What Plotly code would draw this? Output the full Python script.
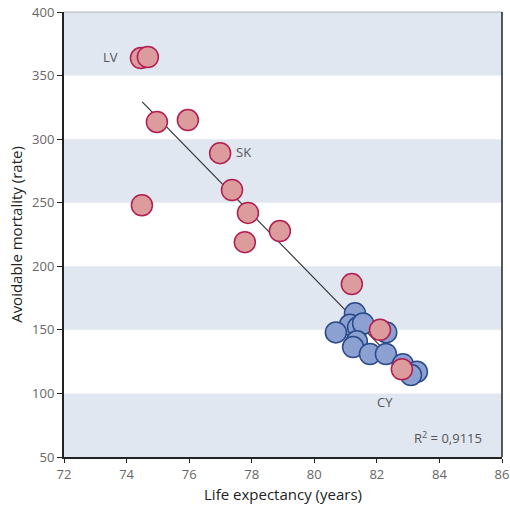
import numpy as np
import plotly.graph_objects as go

# Red group (life expectancy, avoidable mortality)
red_x = [74.46, 74.68, 74.97, 75.96, 76.99, 77.37, 77.88, 77.78, 74.49, 78.9, 81.2, 82.1, 82.8]
red_y = [363.8, 364.6, 313.5, 315.0, 289.0, 260.0, 242.0, 219.0, 248.0, 227.7, 186.0, 150.0, 119.0]

# Blue group
blue_x = [81.3, 81.14, 80.69, 81.4, 81.56, 82.3, 81.36, 81.24, 81.78, 82.29, 82.83, 83.28, 83.09]
blue_y = [163.0, 154.0, 148.0, 152.0, 155.0, 148.0, 141.0, 136.5, 131.0, 131.0, 123.0, 117.0, 114.5]

# Trend line range (years)
trend_x = [74.5, 83.3]

labels = ["LV", "SK", "CY"]
label_x = [73.5, 77.75, 82.25]
label_y = [365, 290, 93]

bands = [(50, 100), (150, 200), (250, 300), (350, 400)]

all_x = np.array(red_x + blue_x)
all_y = np.array(red_y + blue_y)
slope, intercept = np.polyfit(all_x, all_y, 1)
tx = np.array(trend_x)
ty = slope * tx + intercept

font_family = "Open Sans, Noto Sans, sans-serif"

fig = go.Figure()

fig.add_trace(go.Scatter(x=tx, y=ty, mode="lines",
                         line=dict(color="#333333", width=1.2), hoverinfo="skip"))
fig.add_trace(go.Scatter(x=blue_x, y=blue_y, mode="markers",
                         marker=dict(size=21, color="#8ca0d2",
                                     line=dict(color="#2b4a8a", width=1.5))))
fig.add_trace(go.Scatter(x=red_x, y=red_y, mode="markers",
                         marker=dict(size=21, color="#dc9b9d",
                                     line=dict(color="#b21e50", width=1.5))))

for lab, lx, ly in zip(labels, label_x, label_y):
    fig.add_annotation(x=lx, y=ly, text=lab, showarrow=False,
                       font=dict(size=13, color="#555555", family=font_family))

fig.add_annotation(x=1, y=0, xref="x domain", yref="y domain",
                   xanchor="right", yanchor="bottom", xshift=-18, yshift=8,
                   text="R<sup>2</sup> = 0,9115", showarrow=False,
                   font=dict(size=13, color="#555555", family=font_family))

shapes = []
for lo, hi in bands:
    shapes.append(dict(type="rect", xref="x domain", yref="y", x0=0, x1=1, y0=lo, y1=hi,
                       fillcolor="#e1e7f1", line=dict(width=0), layer="below"))
shapes.append(dict(type="line", xref="x domain", yref="y domain", x0=0, x1=1, y0=1, y1=1,
                   line=dict(color="#b0b0b0", width=1)))
shapes.append(dict(type="line", xref="x domain", yref="y domain", x0=1, x1=1, y0=0, y1=1,
                   line=dict(color="#222222", width=1.5)))

fig.update_layout(
    width=510, height=506,
    margin=dict(l=64, r=8, t=12, b=49, autoexpand=False),
    paper_bgcolor="white", plot_bgcolor="white",
    showlegend=False,
    shapes=shapes,
    font=dict(family=font_family),
    xaxis=dict(range=[72, 86], dtick=2, showgrid=False, zeroline=False, automargin=False,
               showline=True, linecolor="#222222", linewidth=2,
               ticks="outside", ticklen=4, tickcolor="#222222",
               tickfont=dict(size=13, color="#666666"),
               title=dict(text="Life expectancy (years)", font=dict(size=15, color="#222222"), standoff=8)),
    yaxis=dict(range=[50, 400], dtick=50, showgrid=False, zeroline=False, automargin=False,
               showline=True, linecolor="#222222", linewidth=2,
               ticks="outside", ticklen=5, tickcolor="#222222",
               tickfont=dict(size=13, color="#666666"),
               title=dict(text="Avoidable mortality (rate)", font=dict(size=15, color="#222222"), standoff=6)),
)

fig.write_html("out.html", config={"displayModeBar": False},
               post_script="document.body.style.margin='0';document.body.style.overflow='hidden';")
